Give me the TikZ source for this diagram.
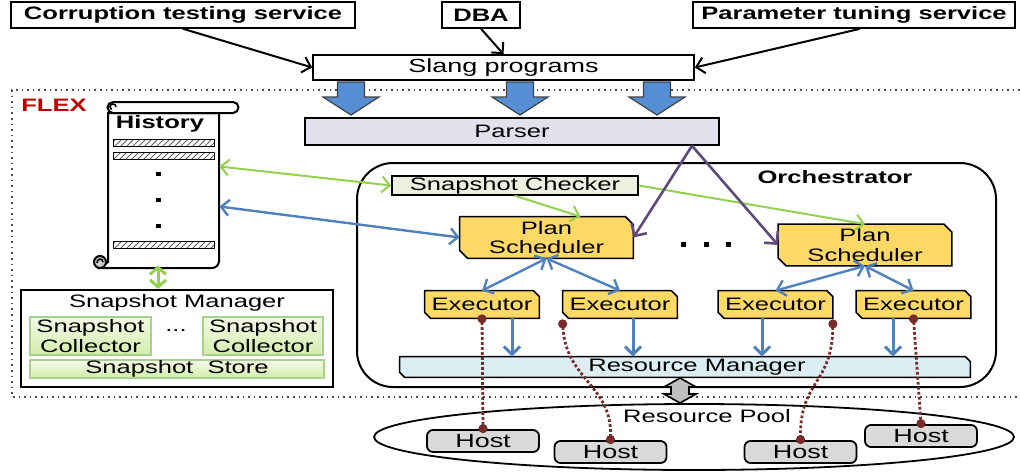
\documentclass[tikz,border=0pt]{standalone}
\usepackage{fontspec}
\setmainfont{Liberation Sans}[FakeStretch=1.42]
\usetikzlibrary{arrows.meta}
\usetikzlibrary{patterns}
\usetikzlibrary{shapes.geometric,backgrounds}
\usepackage{xcolor}

\definecolor{linkgreen}{HTML}{92D050}
\definecolor{linkblue}{HTML}{4F81BD}
\definecolor{linkpurple}{HTML}{604A7B}
\definecolor{planyellow}{HTML}{FFD966}
\definecolor{parserlilac}{HTML}{E4DFEC}
\definecolor{checkergreen}{HTML}{EBF1DE}
\definecolor{rmblue}{HTML}{DAEEF3}
\definecolor{hostgray}{HTML}{D9D9D9}
\definecolor{tracebrown}{HTML}{772C2A}
\definecolor{flexred}{HTML}{C00000}
\definecolor{blockblue}{HTML}{558ED5}
\definecolor{collborder}{HTML}{A9D18E}
\definecolor{colltop}{HTML}{F4FAE8}
\definecolor{collbot}{HTML}{D3EDAB}

\begin{document}
\fontsize{9}{9.6}\selectfont
\begin{tikzpicture}[x=0.5pt, y=-0.5pt,
 box/.style={draw, line width=0.8pt, fill=white, inner sep=0pt},
 snip/.style={inner sep=0pt, align=center},
 execbox/.style={snip, minimum width=57pt, minimum height=13.5pt},
 planbox/.style={snip, minimum width=86.5pt, minimum height=20.5pt},
 hostbox/.style={draw, line width=0.9pt, fill=hostgray, rounded corners=3pt, minimum width=56pt, minimum height=11pt, inner sep=0pt, font=\fontsize{9.5}{10}\selectfont},
 collbox/.style={draw=collborder, line width=0.8pt, top color=colltop, bottom color=collbot, inner sep=0pt, align=center},
 bar/.style={draw, line width=0.5pt, pattern=north east lines, pattern color=black!60},
 blockarrow/.style={draw=black!75, line width=0.6pt, fill=blockblue},
 blacklink/.style={black, line width=1pt, >={Straight Barb[length=4pt,width=8pt]}},
 greenlink/.style={linkgreen, line width=1pt, >={Straight Barb[length=4pt,width=8pt]}},
 bluelink/.style={linkblue, line width=1.2pt, >={Straight Barb[length=4pt,width=8pt]}},
 purplelink/.style={linkpurple, line width=1.3pt, >={Straight Barb[length=4.5pt,width=9pt]}},
 trace/.style={tracebrown, line width=1.4pt, dash pattern=on 1.4pt off 1.1pt,
   {Circle[length=4.5pt]}-{Circle[length=4.5pt]}, shorten <=-2pt, shorten >=-2pt}]
\useasboundingbox (0,0) rectangle (1020,471);

% FLEX region (open to the right, cut by the page)
\draw[black!70, line width=0.8pt, dotted] (1020,90) -- (12,90) -- (12,397) -- (1020,397);
\node[text=flexred, font=\bfseries] (flex) at (54,105) {FLEX};

% services and programs
\node[box, minimum width=172pt, minimum height=13pt, font=\bfseries] (cts) at (183,15) {Corruption testing service};
\node[box, minimum width=39pt, minimum height=13pt, font=\bfseries] (dba) at (481,15) {DBA};
\node[box, minimum width=161pt, minimum height=13pt, font=\bfseries] (pts) at (854,15) {Parameter tuning service};
\node[box, minimum width=190.5pt, minimum height=12.5pt, font=\fontsize{9.5}{10}\selectfont] (slang) at (503.5,67.5) {Slang programs};
\draw[blacklink, ->] (cts.south) -- (slang.west);
\draw[blacklink, ->] (dba.south) -- (slang.north);
\draw[blacklink, ->] ([xshift=3pt]pts.south) -- (slang.east);

\foreach \x in {351,520,657} {
 \draw[blockarrow] (\x-13.5,82) -- (\x+13.5,82) -- (\x+13.5,97) -- (\x+28,97) -- (\x,115)
   -- (\x-28,97) -- (\x-13.5,97) -- cycle;
}
\node[box, fill=parserlilac, minimum width=207pt, minimum height=13.5pt] (parser) at (512,131.5) {Parser};

% History scroll
\node[minimum width=55.5pt, minimum height=77.5pt, inner sep=0pt] (hist) at (163.5,190.5) {};
\draw[line width=1pt, fill=white] (108,113) -- (108,262) -- (100,268) -- (212,268)
  arc[start angle=-90, end angle=0, radius=3.5pt] -- (219,113) -- cycle;
\draw[line width=1pt, fill=white] (113,102) -- (233,102) arc[start angle=90, end angle=-90, radius=2.75pt]
  -- (113,113) arc[start angle=-90, end angle=-270, radius=2.75pt];
\draw[line width=0.8pt] (116,107) arc[start angle=0, end angle=240, radius=1.5pt];
\draw[line width=1pt, fill=black!20] (100,262) circle (3pt);
\draw[line width=0.8pt] (103,262) arc[start angle=0, end angle=200, radius=1.5pt];
\node[font=\bfseries] (histlabel) at (160,124) {History};
\foreach \y in {139,152,241} {
 \draw[bar] (113,\y) rectangle (214,\y+7);
}
\foreach \y in {174,200,226} {
 \fill (156,\y-2) rectangle (161,\y+2);
}

% Snapshot manager
\node[box, line width=1.1pt, minimum width=156pt, minimum height=48.5pt] (sm) at (177,338.5) {};
\node (smlabel) at (177,303) {Snapshot Manager};
\node[collbox, minimum width=60.5pt, minimum height=19pt] (sc1) at (90.5,336) {Snapshot\\Collector};
\node[collbox, minimum width=60pt, minimum height=19pt] (sc2) at (263,336) {Snapshot\\Collector};
\node (scdots) at (176,331) {...};
\node[collbox, minimum width=147pt, minimum height=9pt] (store) at (177,369) {Snapshot\ \ Store};
\draw[linkgreen, line width=1.5pt, shorten <=-1.5pt, {Straight Barb[length=3.5pt,width=8pt]}-{Straight Barb[length=3.5pt,width=8pt]}]
  ([xshift=-2.75pt]hist.south) -- ([xshift=-2.75pt]hist.south |- sm.north);

% Orchestrator
\draw[line width=1pt, rounded corners=18pt] (357,163) rectangle (996,387);
\node[font=\bfseries] (orchlabel) at (835,177) {Orchestrator};
\node[box, fill=checkergreen, minimum width=123pt, minimum height=9.5pt] (chk) at (515,185.5) {Snapshot Checker};
\node[planbox] (ps1) at (546.5,237.5) {Plan\\Scheduler};
\node[planbox] (ps2) at (865,245) {Plan\\Scheduler};
\foreach \x in {683,706,728} {
 \fill (\x-2.5,241.5) rectangle (\x+2.5,246.5);
}
\node[execbox] (e1) at (482,304.5) {Executor};
\node[execbox] (e2) at (620,304.5) {Executor};
\node[execbox] (e3) at (775.5,304.5) {Executor};
\node[execbox] (e4) at (913.5,304.5) {Executor};
\node[snip, minimum width=285pt, minimum height=10pt] (rm) at (685,367) {\hspace*{12pt}Resource Manager};
\begin{scope}[on background layer]
\foreach \n/\c/\f in {ps1/4pt/planyellow, ps2/4pt/planyellow, e1/3pt/planyellow, e2/3pt/planyellow,
  e3/3pt/planyellow, e4/3pt/planyellow, rm/2.5pt/rmblue} {
 \draw[line width=0.8pt, fill=\f] (\n.north west) -- ([xshift=-\c]\n.north east) -- ([yshift=-\c]\n.north east)
   -- (\n.south east) -- ([xshift=\c]\n.south west) -- ([yshift=\c]\n.south west) -- cycle;
}
\end{scope}

% Resource pool
\node[draw, ellipse, line width=0.9pt, minimum width=320pt, minimum height=33pt, inner sep=0pt] (pool) at (694,437) {};
\node (poollabel) at (707,416) {Resource Pool};
\draw[line width=0.8pt, fill=black!25] (680,378) -- (696,387) -- (689,387) -- (689,394) -- (696,394) -- (680,403)
  -- (664,394) -- (671,394) -- (671,387) -- (664,387) -- cycle;
\node[hostbox] (h1) at (483,441) {Host};
\node[hostbox] (h2) at (610.5,452) {Host};
\node[hostbox] (h3) at (800.5,452) {Host};
\node[hostbox] (h4) at (921,436) {Host};

% links
\draw[greenlink, <->] ([yshift=12pt]hist.east) -- (chk.west);
\draw[greenlink, ->] (chk.south) -- ([xshift=17pt]ps1.north);
\draw[greenlink, ->] (chk.east) -- (ps2.north);
\draw[bluelink, <->] ([yshift=-8pt]hist.east) -- (ps1.west);
\draw[purplelink, ->] ([xshift=90pt]parser.south) -- (ps1.east);
\draw[purplelink, ->] ([xshift=90pt]parser.south) -- (ps2.west);
\draw[bluelink, <->] (ps1.south) -- (e1.north);
\draw[bluelink, <->] (ps1.south) -- (e2.north);
\draw[bluelink, <->] (ps2.south) -- (e3.north);
\draw[bluelink, <->] (ps2.south) -- (e4.north);
\foreach \n/\dx in {e1/15pt, e2/6.5pt, e3/-6.75pt, e4/-10.25pt} {
 \draw[bluelink, line width=1.5pt, ->] ([xshift=\dx]\n.south) -- ([xshift=\dx]\n.south |- rm.north);
}
\draw[trace] (e1.south) -- (h1.north);
\draw[trace] ([yshift=-2.5pt]e2.south west) .. controls (566,380) and (612,385) .. (h2.north);
\draw[trace] ([yshift=-2.5pt]e3.south east) .. controls (832,385) and (800,380) .. (h3.north);
\draw[trace] (e4.south) -- (h4.north);
\end{tikzpicture}
\end{document}
